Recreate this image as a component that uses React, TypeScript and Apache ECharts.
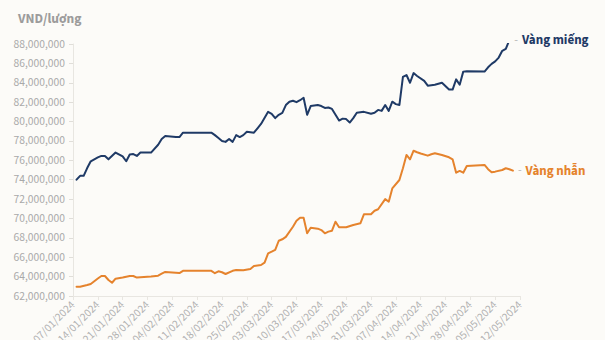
import React, { useEffect, useRef } from "react";
import * as echarts from "echarts";

// Axis settings (values in VND/lượng)
const yMin = 62000000;
const yMax = 88000000;
const yStep = 2000000;
const axisStartDate = "2024-01-07";
const axisEndDate = "2024-05-12";
const tickDays = 7;

// Vàng miếng (SJC bars) – dates and prices in millions
const miengDates = [
  "2024-01-08","2024-01-09","2024-01-10","2024-01-11","2024-01-12","2024-01-14","2024-01-15","2024-01-16","2024-01-17","2024-01-19",
  "2024-01-21","2024-01-22","2024-01-23","2024-01-24","2024-01-25","2024-01-26","2024-01-29","2024-01-31","2024-02-01","2024-02-02",
  "2024-02-05","2024-02-06","2024-02-07","2024-02-15","2024-02-16","2024-02-17","2024-02-18","2024-02-19","2024-02-20","2024-02-21",
  "2024-02-22","2024-02-23","2024-02-24","2024-02-25","2024-02-27","2024-02-28","2024-02-29","2024-03-02","2024-03-03","2024-03-04",
  "2024-03-05","2024-03-06","2024-03-07","2024-03-08","2024-03-09","2024-03-10","2024-03-11","2024-03-12","2024-03-13","2024-03-14",
  "2024-03-16","2024-03-17","2024-03-18","2024-03-19","2024-03-20","2024-03-21","2024-03-22","2024-03-23","2024-03-24","2024-03-25",
  "2024-03-26","2024-03-27","2024-03-29","2024-03-31","2024-04-01","2024-04-02","2024-04-03","2024-04-04","2024-04-05","2024-04-06",
  "2024-04-07","2024-04-08","2024-04-09","2024-04-10","2024-04-11","2024-04-12","2024-04-13","2024-04-15","2024-04-16","2024-04-18",
  "2024-04-20","2024-04-22","2024-04-23","2024-04-24","2024-04-25","2024-04-26","2024-04-27","2024-05-02","2024-05-03","2024-05-04",
  "2024-05-05","2024-05-06","2024-05-07","2024-05-08","2024-05-09",
];
const miengValues = [
  74.0, 74.4, 74.4, 75.2, 75.9, 76.3, 76.45, 76.45, 76.1, 76.8,
  76.4, 75.9, 76.6, 76.65, 76.45, 76.8, 76.8, 77.6, 78.2, 78.5,
  78.4, 78.4, 78.85, 78.85, 78.6, 78.3, 78.0, 77.9, 78.2, 77.9,
  78.6, 78.4, 78.6, 78.95, 78.85, 79.3, 79.75, 81.0, 80.8, 80.35,
  80.7, 80.9, 81.7, 82.05, 82.15, 82.0, 82.2, 82.45, 80.7, 81.6,
  81.7, 81.6, 81.4, 81.45, 81.3, 80.7, 80.1, 80.3, 80.25, 79.9,
  80.35, 80.9, 81.0, 80.8, 80.9, 81.2, 81.1, 81.7, 81.1, 82.05,
  81.8, 81.7, 84.6, 84.8, 84.0, 85.0, 84.7, 84.2, 83.7, 83.8,
  84.0, 83.3, 83.3, 84.35, 83.8, 85.15, 85.2, 85.15, 85.6, 85.95,
  86.2, 86.6, 87.3, 87.5, 88.4,
];

// Vàng nhẫn (gold rings) – dates and prices in millions
const nhanDates = [
  "2024-01-08","2024-01-09","2024-01-11","2024-01-12","2024-01-14","2024-01-15","2024-01-16","2024-01-17","2024-01-18","2024-01-19",
  "2024-01-21","2024-01-23","2024-01-24","2024-01-25","2024-01-27","2024-01-29","2024-01-31","2024-02-01","2024-02-02","2024-02-05",
  "2024-02-06","2024-02-07","2024-02-15","2024-02-16","2024-02-17","2024-02-18","2024-02-19","2024-02-21","2024-02-22","2024-02-24",
  "2024-02-26","2024-02-27","2024-02-29","2024-03-01","2024-03-02","2024-03-03","2024-03-04","2024-03-05","2024-03-06","2024-03-07",
  "2024-03-09","2024-03-10","2024-03-11","2024-03-12","2024-03-13","2024-03-14","2024-03-16","2024-03-17","2024-03-18","2024-03-19",
  "2024-03-20","2024-03-21","2024-03-22","2024-03-24","2024-03-26","2024-03-28","2024-03-29","2024-03-31","2024-04-01","2024-04-02",
  "2024-04-04","2024-04-05","2024-04-06","2024-04-08","2024-04-09","2024-04-10","2024-04-11","2024-04-12","2024-04-13","2024-04-14",
  "2024-04-16","2024-04-17","2024-04-18","2024-04-20","2024-04-22","2024-04-23","2024-04-24","2024-04-25","2024-04-26","2024-04-27",
  "2024-05-02","2024-05-03","2024-05-04","2024-05-05","2024-05-07","2024-05-08","2024-05-09","2024-05-10",
];
const nhanValues = [
  62.96, 62.96, 63.13, 63.24, 63.8, 64.06, 64.06, 63.65, 63.37, 63.79,
  63.9, 64.06, 64.06, 63.9, 63.95, 64.0, 64.1, 64.3, 64.48, 64.4,
  64.37, 64.6, 64.6, 64.35, 64.55, 64.45, 64.27, 64.6, 64.68, 64.65,
  64.79, 65.1, 65.2, 65.44, 66.4, 66.57, 66.75, 67.7, 67.85, 68.1,
  69.15, 69.77, 70.08, 70.08, 68.47, 69.05, 68.95, 68.8, 68.47, 68.64,
  68.74, 69.67, 69.09, 69.09, 69.33, 69.5, 70.43, 70.43, 70.8, 70.95,
  72.0, 71.73, 73.1, 73.97, 75.18, 76.55, 76.1, 76.99, 76.83, 76.7,
  76.48, 76.62, 76.72, 76.55, 76.31, 76.1, 74.72, 74.9, 74.72, 75.42,
  75.52, 75.08, 74.76, 74.83, 75.0, 75.18, 75.08, 74.93,
];

const seriesNames = ["Vàng miếng", "Vàng nhẫn"];
const yAxisTitle = "VND/lượng";

const DAY = 86400000;
const toDay = (s: string) =>
  Math.round((Date.parse(s + "T00:00:00Z") - Date.parse(axisStartDate + "T00:00:00Z")) / DAY);
const pad = (n: number) => (n < 10 ? "0" + n : "" + n);
const dayLabel = (d: number) => {
  const t = new Date(Date.parse(axisStartDate + "T00:00:00Z") + d * DAY);
  return `${pad(t.getUTCDate())}/${pad(t.getUTCMonth() + 1)}/${t.getUTCFullYear()}`;
};

export default function App() {
  const ref = useRef<HTMLDivElement>(null);
  useEffect(() => {
    if (!ref.current) return;
    const chart = echarts.init(ref.current, undefined, { renderer: "svg" });
    const font = "'Source Sans Pro', 'Source Sans 3', Roboto, sans-serif";
    const blue = "#1f3a66";
    const orange = "#e5832d";
    const mk = (dates: string[], vals: number[]) =>
      dates.map((d, i) => [toDay(d), Math.round(vals[i] * 1000000)]);
    chart.setOption({
      animation: false,
      backgroundColor: "#fcfbf8",
      textStyle: { fontFamily: font },
      title: {
        text: yAxisTitle,
        left: 13,
        top: 6,
        textStyle: { fontSize: 13.5, fontWeight: "bold", color: "#9c9c9c", fontFamily: font },
      },
      grid: {
        left: 73,
        right: 85,
        top: 44,
        bottom: 44,
        containLabel: false,
        outerBoundsMode: "none",
      },
      xAxis: {
        type: "value",
        min: 0,
        max: toDay(axisEndDate),
        interval: tickDays,
        splitLine: { show: false },
        axisLine: { show: true, lineStyle: { color: "#e8e6e1", width: 1 } },
        axisTick: { show: true, length: 4, lineStyle: { color: "#e8e6e1" } },
        axisLabel: {
          rotate: 45,
          margin: 7,
          fontSize: 11.5,
          color: "#b0b0b0",
          fontFamily: font,
          formatter: (v: number) => dayLabel(v),
        },
      },
      yAxis: {
        type: "value",
        min: yMin,
        max: yMax,
        interval: yStep,
        splitLine: { show: false },
        axisLine: { show: true, lineStyle: { color: "#e8e6e1", width: 1 } },
        axisTick: { show: true, length: 4, lineStyle: { color: "#e0ded9" } },
        axisLabel: {
          margin: 8,
          fontSize: 11.5,
          color: "#a9a9a9",
          fontFamily: font,
          formatter: (v: number) => v.toLocaleString("en-US"),
        },
      },
      series: [
        {
          name: seriesNames[0],
          type: "line",
          data: mk(miengDates, miengValues),
          showSymbol: false,
          lineStyle: { color: blue, width: 2, join: "round", cap: "round" },
          itemStyle: { color: blue },
          endLabel: {
            show: true,
            distance: 5,
            formatter: () => `{d|-}{n|${seriesNames[0]}}`,
            rich: {
              d: { color: "#b5b5b5", fontSize: 12, fontFamily: font, padding: [0, 4, 0, 0] },
              n: { color: blue, fontSize: 13, fontWeight: "bold", fontFamily: font },
            },
          },
        },
        {
          name: seriesNames[1],
          type: "line",
          data: mk(nhanDates, nhanValues),
          showSymbol: false,
          lineStyle: { color: orange, width: 2, join: "round", cap: "round" },
          itemStyle: { color: orange },
          endLabel: {
            show: true,
            distance: 5,
            formatter: () => `{d|-}{n|${seriesNames[1]}}`,
            rich: {
              d: { color: "#b5b5b5", fontSize: 12, fontFamily: font, padding: [0, 4, 0, 0] },
              n: { color: orange, fontSize: 13, fontWeight: "bold", fontFamily: font },
            },
          },
        },
      ],
    });
    return () => chart.dispose();
  }, []);
  return (
    <div
      ref={ref}
      style={{ position: "fixed", left: 0, top: 0, width: 605, height: 340 }}
    />
  );
}
